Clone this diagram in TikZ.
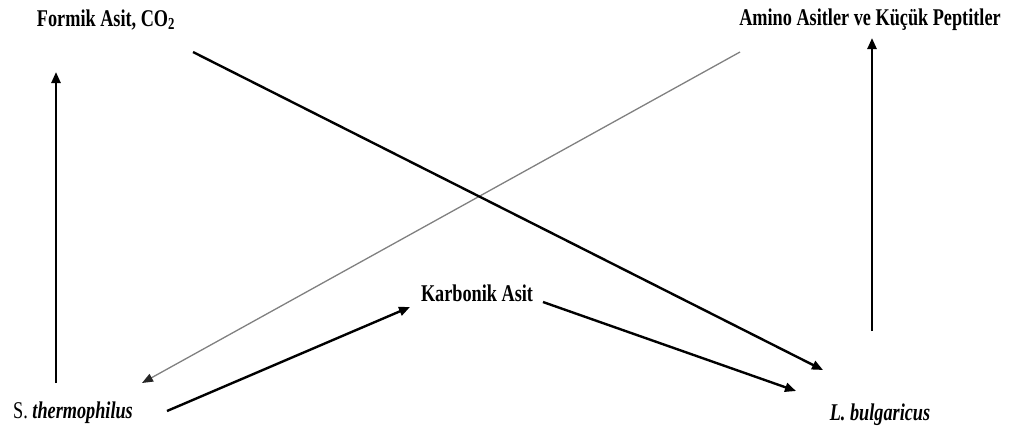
\documentclass[tikz,border=0pt]{standalone}
\usepackage{fontspec}
\setmainfont{Liberation Serif}[FakeStretch=0.76]
\usetikzlibrary{arrows.meta}
\begin{document}
\begin{tikzpicture}[x=1pt,y=-1pt,
  lbl/.style={anchor=base,inner sep=0pt,font=\fontsize{24}{28}\selectfont},
  arr/.style={line width=2.4pt,-{Triangle[length=11pt,width=9pt]}},
  thinarr/.style={line width=1.3pt,draw=black!50,-{Triangle[length=11pt,width=8.5pt,color=black!85]}}]
\useasboundingbox (0,0) rectangle (1011,432);

% labels
\node[lbl] (formik) at (106,26) {\bfseries Formik Asit, CO\textsubscript{2}};
\node[lbl] (amino)  at (870,25) {\bfseries Amino Asitler ve Küçük Peptitler};
\node[lbl] (karb)   at (477,301) {\bfseries Karbonik Asit};
\node[lbl] (sther)  at (73,418) {S. \textbf{\textit{thermophilus}}};
\node[lbl] (lbul)   at (880,420) {\textbf{\textit{L. bulgaricus}}};

% connector end points beside the labels
\coordinate (sther-up)  at (56,383);
\coordinate (formik-dn) at (56,72);
\coordinate (lbul-up)   at (872,331);
\coordinate (amino-dn)  at (872,38);
\coordinate (formik-r)  at (193,52);
\coordinate (lbul-tl)   at (823,370);
\coordinate (amino-l)   at (740,52);
\coordinate (sther-tr)  at (142,383);
\coordinate (sther-r)   at (167,411);
\coordinate (karb-l)    at (410,307);
\coordinate (karb-r)    at (543,302);
\coordinate (lbul-l)    at (796,391);

% connectors
\draw[arr] (sther-up) -- (formik-dn);
\draw[arr] (lbul-up) -- (amino-dn);
\draw[thinarr] (amino-l) -- (sther-tr);
\draw[arr] (formik-r) -- (lbul-tl);
\draw[arr] (sther-r) -- (karb-l);
\draw[arr] (karb-r) -- (lbul-l);
\end{tikzpicture}
\end{document}
